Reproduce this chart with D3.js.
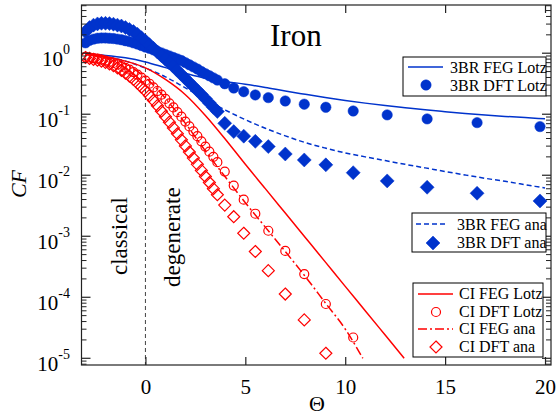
<!DOCTYPE html>
<html><head><meta charset="utf-8">
<script src="https://cdn.jsdelivr.net/npm/d3@7"></script>
<style>
html,body{margin:0;padding:0;background:#fff;}
svg{display:block;font-family:"Liberation Serif","Times New Roman",serif;}
</style></head>
<body><svg id="chart" width="557" height="416"></svg>
<script>
// ---- data ----
const thetaMarkers = [-3.0,-2.8,-2.6,-2.4,-2.2,-2.0,-1.8,-1.6,-1.4,-1.2,-1.0,-0.8,-0.6,-0.4,-0.2,0.0,0.2,0.4,0.6,0.8,1.0,1.2,1.4,1.6,1.8,2.0,2.2,2.4,2.6,2.8,3.0,3.2,3.4,3.6,3.97,4.42,4.92,5.5,6.15,7.0,7.95,9.03,10.4,12.1,14.1,16.6,19.75];
const dft3brLotz = [1.479,1.622,1.698,1.758,1.778,1.778,1.758,1.738,1.698,1.660,1.603,1.549,1.479,1.413,1.334,1.259,1.202,1.135,1.072,1.012,0.955,0.902,0.851,0.804,0.759,0.700,0.646,0.596,0.550,0.501,0.462,0.427,0.394,0.363,0.316,0.269,0.234,0.207,0.187,0.165,0.146,0.130,0.113,0.0975,0.0838,0.0728,0.0627];
const dft3brAna = [2.239,2.630,2.884,3.020,3.090,3.090,3.055,2.985,2.884,2.786,2.630,2.455,2.265,2.042,1.799,1.585,1.380,1.202,1.047,0.912,0.794,0.692,0.603,0.519,0.447,0.385,0.331,0.285,0.245,0.211,0.180,0.153,0.130,0.111,0.0708,0.0519,0.0437,0.0359,0.0295,0.0223,0.0178,0.0148,0.0110,0.00807,0.00635,0.00507,0.00379];
const dftCILotz = [0.871,0.851,0.832,0.813,0.785,0.759,0.724,0.692,0.653,0.617,0.575,0.537,0.490,0.447,0.398,0.355,0.316,0.275,0.240,0.209,0.178,0.151,0.129,0.108,0.0912,0.0759,0.0631,0.0525,0.0437,0.0359,0.0295,0.0243,0.0200,0.0164,0.0115,0.00676,0.00398,0.00234,0.00123,0.000575,0.000240,0.0000776,0.0000219];
const dftCIAna = [0.851,0.822,0.794,0.767,0.741,0.708,0.668,0.624,0.575,0.525,0.473,0.422,0.372,0.324,0.279,0.240,0.202,0.168,0.138,0.112,0.0912,0.0741,0.0596,0.0479,0.0380,0.0302,0.0240,0.0191,0.0151,0.0120,0.00955,0.00759,0.00603,0.00479,0.00324,0.00209,0.00112,0.000562,0.000273,0.000113,0.0000425,0.0000121];

const thetaLine = [-3,-2,-1,0,1,2,3,4,5,6,7,8,9,10,11,12,13,14,15,16,17,18,19,20];
const feg3brLotz = [0.97,0.92,0.84,0.72,0.58,0.47,0.39,0.345,0.31,0.275,0.24,0.212,0.188,0.168,0.152,0.139,0.128,0.118,0.110,0.103,0.097,0.092,0.088,0.084];
const feg3brAna = [0.970,0.879,0.741,0.570,0.410,0.270,0.176,0.117,0.0813,0.0589,0.0442,0.0343,0.0279,0.0232,0.0200,0.0174,0.0151,0.0132,0.0115,0.0101,0.00891,0.00794,0.00700,0.00617];
const thetaCILotz = [-3,-2,-1,0,1,2,3,4,5,6,7,8,9,10,11,12,12.95];
const fegCILotz = [0.955,0.871,0.741,0.575,0.372,0.209,0.0955,0.0389,0.0151,0.00603,0.00240,0.000955,0.000380,0.000151,0.0000603,0.0000240,0.0000100];
const thetaCIAna = [-3,-2,-1,0,1,2,3,4,5,6,7,8,9,10,10.88];
const fegCIAna = [0.955,0.851,0.661,0.398,0.182,0.0708,0.0251,0.00933,0.00355,0.00141,0.000562,0.000219,0.0000813,0.0000302,0.0000100];

const xTicks = [0,5,10,15,20];
const yTickExps = [0,-1,-2,-3,-4,-5];
const BLUE = "#0033cc", RED = "#ff0000";

// ---- layout ----
const svg = d3.select("#chart");
const L = 81.5, R = 551, T = 5, B = 365;
const x = d3.scaleLinear().domain([-3.2, 20.3]).range([L, R]);
const y = d3.scaleLog().domain([Math.pow(10,-5.11), Math.pow(10,0.79)]).range([B, T]);

const g = svg.append("g");
const clip = svg.append("defs").append("clipPath").attr("id","clip")
  .append("rect").attr("x",L).attr("y",T).attr("width",R-L).attr("height",B-T);
const plot = g.append("g").attr("clip-path","url(#clip)");

// vertical dashed line at 0
plot.append("line").attr("x1",x(0)).attr("x2",x(0)).attr("y1",T).attr("y2",B)
  .attr("stroke","#444").attr("stroke-width",1).attr("stroke-dasharray","4,3");

const line = d3.line().x(d=>x(d[0])).y(d=>y(d[1])).curve(d3.curveMonotoneX);
function drawLine(th, vals, color, dash){
  plot.append("path").datum(th.map((t,i)=>[t,vals[i]]))
    .attr("d", line).attr("fill","none").attr("stroke",color)
    .attr("stroke-width",1.5).attr("stroke-dasharray",dash||null);
}
const circ = d3.symbol().type(d3.symbolCircle);
function drawMarkers(vals, kind, color, filled, size){
  const pts = vals.map((v,i)=>[thetaMarkers[i], v]);
  const sel = plot.append("g").selectAll("path").data(pts).join("path")
    .attr("transform", d=>`translate(${x(d[0])},${y(d[1])})`)
    .attr("fill", filled?color:"none").attr("stroke", color).attr("stroke-width", filled?0.5:1.2);
  if(kind==="circle") sel.attr("d", d3.symbol().type(d3.symbolCircle).size(Math.PI*size*size));
  else sel.attr("d", `M0,${-size}L${size},0L0,${size}L${-size},0Z`);
}

drawLine(thetaLine, feg3brLotz, BLUE);
drawLine(thetaLine, feg3brAna, BLUE, "5,3");
drawMarkers(dft3brLotz, "circle", BLUE, true, 5.2);
drawMarkers(dft3brAna, "diamond", BLUE, true, 7);
drawLine(thetaCILotz, fegCILotz, RED);
drawLine(thetaCIAna, fegCIAna, RED, "9,3,2,3");
drawMarkers(dftCILotz, "circle", RED, false, 4.5);
drawMarkers(dftCIAna, "diamond", RED, false, 6);

// ---- axes ----
const axisColor = "#222";
g.append("rect").attr("x",L).attr("y",T).attr("width",R-L).attr("height",B-T)
  .attr("fill","none").attr("stroke",axisColor).attr("stroke-width",1.2);

const xb = d3.axisBottom(x).tickValues(xTicks).tickSize(-8).tickPadding(14).tickFormat(d3.format("d"));
const gx = g.append("g").attr("transform",`translate(0,${B})`).call(xb);
gx.select(".domain").remove();
gx.selectAll("line").attr("stroke",axisColor).attr("stroke-width",1.2);
gx.selectAll("text").attr("font-size",21).attr("font-family","Liberation Serif").attr("fill","#000");
const xt = d3.axisTop(x).tickValues(xTicks).tickSize(-8).tickFormat("");
const gxt = g.append("g").attr("transform",`translate(0,${T})`).call(xt);
gxt.select(".domain").remove();
gxt.selectAll("line").attr("stroke",axisColor).attr("stroke-width",1.2);

// y ticks major & minor
const minor = [];
for(let e=-6;e<=0;e++) for(let m=2;m<=9;m++){const v=m*Math.pow(10,e); if(v>=y.domain()[0]&&v<=y.domain()[1]) minor.push(v);}
const major = yTickExps.map(e=>Math.pow(10,e));
[[L,1],[R,-1]].forEach(([x0,dir])=>{
  g.append("g").selectAll("line").data(major).join("line")
    .attr("x1",x0).attr("x2",x0+dir*9).attr("y1",d=>y(d)).attr("y2",d=>y(d))
    .attr("stroke",axisColor).attr("stroke-width",1.2);
  g.append("g").selectAll("line").data(minor).join("line")
    .attr("x1",x0).attr("x2",x0+dir*5).attr("y1",d=>y(d)).attr("y2",d=>y(d))
    .attr("stroke",axisColor).attr("stroke-width",1);
});
const yl = g.append("g").selectAll("text").data(yTickExps).join("text")
  .attr("x",70).attr("y",d=>y(Math.pow(10,d))+13).attr("text-anchor","end")
  .attr("font-size",21).attr("fill","#000");
yl.append("tspan").text("10");
yl.append("tspan").attr("dy",-12).attr("font-size",14).text(d=>d===0?"0":"-"+(-d));

// axis titles
svg.append("text").attr("x",317).attr("y",411).attr("text-anchor","middle")
  .attr("font-size",22).text("Θ");
svg.append("text").attr("transform","translate(26,184) rotate(-90)").attr("text-anchor","middle")
  .attr("font-size",22).attr("font-style","italic").text("CF");

// annotations
svg.append("text").attr("x",270).attr("y",46).attr("font-size",31).text("Iron");
svg.append("text").attr("transform","translate(127,275) rotate(-90)").attr("font-size",23).text("classical");
svg.append("text").attr("transform","translate(180,287) rotate(-90)").attr("font-size",23).text("degenerate");

// ---- legends ----
function legendBox(x0,y0,w,h){
  svg.append("rect").attr("x",x0).attr("y",y0).attr("width",w).attr("height",h)
    .attr("fill","#fff").attr("stroke","#000").attr("stroke-width",1);
}
function legLine(x1,x2,yy,color,dash){
  svg.append("line").attr("x1",x1).attr("x2",x2).attr("y1",yy).attr("y2",yy)
    .attr("stroke",color).attr("stroke-width",1.5).attr("stroke-dasharray",dash||null);
}
function legSym(cx,cy,kind,color,filled,size){
  const p = svg.append("path").attr("transform",`translate(${cx},${cy})`)
    .attr("fill",filled?color:"none").attr("stroke",color).attr("stroke-width",filled?0.5:1.2);
  if(kind==="circle") p.attr("d", d3.symbol().type(d3.symbolCircle).size(Math.PI*size*size)());
  else p.attr("d", `M0,${-size}L${size},0L0,${size}L${-size},0Z`);
}
function legText(tx,ty,s){ svg.append("text").attr("x",tx).attr("y",ty).attr("font-size",16).text(s); }

legendBox(403,57,143,39);
legLine(408,443,67,BLUE); legText(450,73,"3BR FEG Lotz");
legSym(426,85,"circle",BLUE,true,5.2); legText(450,91,"3BR DFT Lotz");

legendBox(412,213,134,39);
legLine(416,447,224,BLUE,"5,3"); legText(457,230,"3BR FEG ana");
legSym(433,243,"diamond",BLUE,true,7); legText(457,248,"3BR DFT ana");

legendBox(413,283,130,74);
legLine(418,453,294,RED); legText(459,299,"CI FEG Lotz");
legSym(436,312,"circle",RED,false,4.5); legText(459,317,"CI DFT Lotz");
legLine(418,453,329,RED,"9,3,2,3"); legText(459,334,"CI FEG ana");
legSym(436,347,"diamond",RED,false,6); legText(459,352,"CI DFT ana");
</script></body></html>
